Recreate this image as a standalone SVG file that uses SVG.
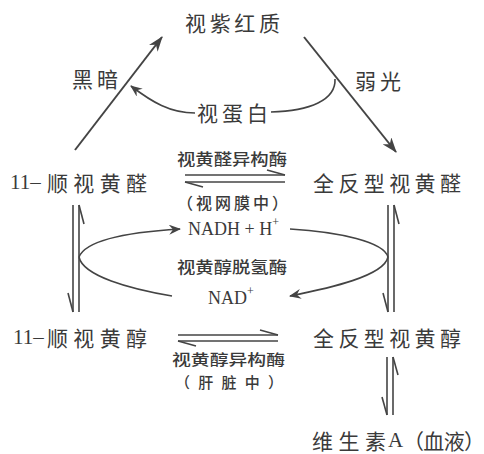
<svg xmlns="http://www.w3.org/2000/svg" width="484" height="454" viewBox="0 0 484 454">
<defs>
<style>
.t{font-family:"Noto Sans CJK SC","Noto Sans",sans-serif;fill:#3a3a3a;dominant-baseline:central}
.m{font-size:21px}
.s{font-size:16px;font-weight:500}
.s2{font-size:15px;font-weight:500}
.r{font-family:"Liberation Serif","DejaVu Serif",serif;fill:#3a3a3a;dominant-baseline:central}
.l{fill:none;stroke:#444;stroke-width:2}
.c{fill:none;stroke:#444;stroke-width:1.6}
</style>
<marker id="ah" viewBox="0 0 12 10" refX="11" refY="5" markerWidth="12" markerHeight="10" markerUnits="userSpaceOnUse" orient="auto">
<path d="M0,0 L12,5 L0,10 L4,5 Z" fill="#444"/>
</marker>
<marker id="ah2" viewBox="0 0 14 10" refX="13" refY="5" markerWidth="16" markerHeight="11" markerUnits="userSpaceOnUse" orient="auto">
<path d="M0,0 L14,5 L0,10 L4,5 Z" fill="#444"/>
</marker>
</defs>
<rect width="484" height="454" fill="#ffffff"/>
<g id="connectors">
<line class="l" x1="75" y1="150" x2="162" y2="37" marker-end="url(#ah2)"/>
<line class="l" x1="304" y1="37" x2="396" y2="152" marker-end="url(#ah2)"/>
<path class="c" d="M335,79 C336,100 310,111 271,112"/>
<path class="c" d="M195,113 C170,113 152,102 131,86" marker-end="url(#ah)"/>
<g id="iso1">
<line class="c" x1="185" y1="175" x2="285" y2="175"/>
<path class="c" d="M285,175 L267,170"/>
<line class="c" x1="185" y1="182" x2="285" y2="182"/>
<path class="c" d="M185,182 L203,187"/>
</g>
<g id="iso2">
<line class="c" x1="178" y1="335" x2="278" y2="335"/>
<path class="c" d="M278,335 L260,330"/>
<line class="c" x1="178" y1="341" x2="278" y2="341"/>
<path class="c" d="M178,341 L196,346"/>
</g>
<g id="vleft">
<line class="c" x1="73" y1="205" x2="73" y2="312"/>
<path class="c" d="M73,312 L68,293"/>
<line class="c" x1="79" y1="205" x2="79" y2="312"/>
<path class="c" d="M79,205 L84,224"/>
</g>
<g id="vright">
<line class="c" x1="388" y1="205" x2="388" y2="312"/>
<path class="c" d="M388,312 L383,293"/>
<line class="c" x1="394" y1="205" x2="394" y2="312"/>
<path class="c" d="M394,205 L399,224"/>
</g>
<g id="vbottom">
<line class="c" x1="387" y1="357" x2="387" y2="415"/>
<path class="c" d="M387,415 L382,397"/>
<line class="c" x1="393" y1="357" x2="393" y2="415"/>
<path class="c" d="M393,357 L398,375"/>
</g>
<path class="c" d="M79,257 C86,240 130,232 180,229" marker-end="url(#ah)"/>
<path class="c" d="M290,229 C340,232 384,242 388,257"/>
<path class="c" d="M388,257 C384,276 330,288 290,296" marker-end="url(#ah)"/>
<path class="c" d="M79,257 C83,276 130,289 172,296"/>
</g>
<g id="n-rhodopsin"><text class="t m" x="185" y="22" textLength="95" lengthAdjust="spacing">视紫红质</text></g>
<g id="l-dark"><text class="t m" x="72" y="78" textLength="46" lengthAdjust="spacing">黑暗</text></g>
<g id="l-light"><text class="t m" x="355" y="80" textLength="46" lengthAdjust="spacing">弱光</text></g>
<g id="l-opsin"><text class="t m" x="197" y="112" textLength="71" lengthAdjust="spacing">视蛋白</text></g>
<g id="n-cis-retinal">
<text class="r m" x="10" y="182">11–</text>
<text class="t m" x="47" y="182" textLength="100" lengthAdjust="spacing">顺视黄醛</text>
</g>
<g id="n-trans-retinal"><text class="t m" x="313" y="182" textLength="148" lengthAdjust="spacing">全反型视黄醛</text></g>
<g id="l-iso1">
<text class="t s" x="177" y="158" textLength="110" lengthAdjust="spacingAndGlyphs">视黄醛异构酶</text>
<text class="t s" x="177" y="202" textLength="111" lengthAdjust="spacing">（视网膜中）</text>
</g>
<g id="l-nadh"><text class="r" font-size="18" x="188" y="229">NADH + H<tspan font-size="12" dy="-7">+</tspan></text></g>
<g id="l-rdh"><text class="t s" x="177" y="266" textLength="110" lengthAdjust="spacingAndGlyphs">视黄醇脱氢酶</text></g>
<g id="l-nad"><text class="r" font-size="18" x="208" y="298">NAD<tspan font-size="12" dy="-7">+</tspan></text></g>
<g id="n-cis-retinol">
<text class="r m" x="13" y="337">11–</text>
<text class="t m" x="47" y="337" textLength="100" lengthAdjust="spacing">顺视黄醇</text>
</g>
<g id="n-trans-retinol"><text class="t m" x="313" y="337" textLength="148" lengthAdjust="spacing">全反型视黄醇</text></g>
<g id="l-iso2">
<text class="t s2" x="172" y="358" textLength="113" lengthAdjust="spacingAndGlyphs">视黄醇异构酶</text>
<text class="t s2" x="175" y="381" textLength="108" lengthAdjust="spacing">（肝脏中）</text>
</g>
<g id="n-vitA">
<text class="t m" x="312" y="440" textLength="74" lengthAdjust="spacing">维生素</text>
<text class="r m" x="388" y="440">A</text>
<text class="t m" x="403" y="440" textLength="82" lengthAdjust="spacing">（血液）</text>
</g>
</svg>
